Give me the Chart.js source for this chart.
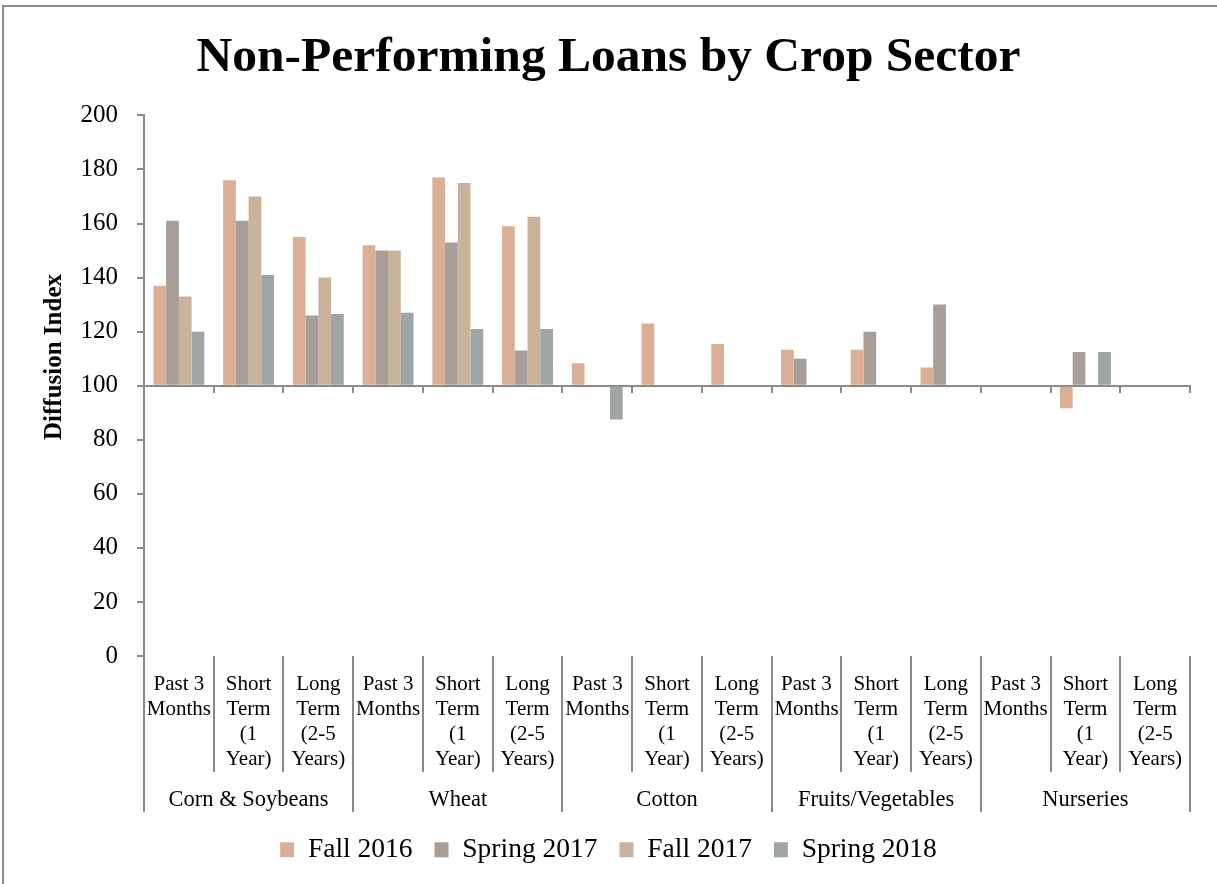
<!DOCTYPE html>
<html>
<head>
<meta charset="utf-8">
<script src="https://cdn.jsdelivr.net/npm/chart.js@4.4.1/dist/chart.umd.min.js"></script>
<style>
  body { margin: 0; background: #fff; overflow: hidden; }
  .frame { position: absolute; left: 2px; top: 5px; width: 1300px; height: 1000px; border: 2px solid #8c8c8c; }
  .wrap { position: absolute; left: 0; top: 0; width: 1217px; height: 884px; }
</style>
</head>
<body>
<div class="frame"></div>
<div class="wrap"><canvas id="myChart"></canvas></div>
<script>
var categories = [
  ["Past 3", "Months"], ["Short", "Term", "(1", "Year)"], ["Long", "Term", "(2-5", "Years)"],
  ["Past 3", "Months"], ["Short", "Term", "(1", "Year)"], ["Long", "Term", "(2-5", "Years)"],
  ["Past 3", "Months"], ["Short", "Term", "(1", "Year)"], ["Long", "Term", "(2-5", "Years)"],
  ["Past 3", "Months"], ["Short", "Term", "(1", "Year)"], ["Long", "Term", "(2-5", "Years)"],
  ["Past 3", "Months"], ["Short", "Term", "(1", "Year)"], ["Long", "Term", "(2-5", "Years)"]
];
var groups = ["Corn & Soybeans", "Wheat", "Cotton", "Fruits/Vegetables", "Nurseries"];

var fall2016   = [137, 176, 155, 152, 177, 159, 108.3, 123, 115.4, 113.3, 113.3, 106.7, null, 91.7, null];
var spring2017 = [161, 161, 126, 150, 153, 113, null, null, null, 110, 120, 130, null, 112.5, null];
var fall2017   = [133, 170, 140, 150, 175, 162.5, null, null, null, null, null, null, null, null, null];
var spring2018 = [120, 141, 126.5, 127, 121, 121, 87.5, null, null, null, null, null, null, 112.5, null];

var yTicks = [0, 20, 40, 60, 80, 100, 120, 140, 160, 180, 200];

const axisGray = '#8a8a8a';
Chart.defaults.font.family = '"Liberation Serif", serif';
Chart.defaults.color = '#000';

// rotated y title, Excel centres it a bit above the plot middle
const yTitle = {
  id: 'yTitle',
  afterDraw(chart) {
    const ctx = chart.ctx;
    ctx.save();
    ctx.translate(55, 357);
    ctx.rotate(-Math.PI / 2);
    ctx.font = 'bold 25px "Liberation Serif"';
    ctx.fillStyle = '#000';
    ctx.textAlign = 'center';
    ctx.textBaseline = 'middle';
    ctx.fillText('Diffusion Index', 0, 0);
    ctx.restore();
  }
};

function bars(label, values, color) {
  return {
    label: label,
    data: values,
    base: 100,
    backgroundColor: color,
    borderWidth: 0,
    categoryPercentage: 0.73,
    barPercentage: 1
  };
}

const ctx = document.getElementById('myChart');
var myChart = new Chart(ctx, {
  type: 'bar',
  data: {
    labels: categories,
    datasets: [
      bars('Fall 2016', fall2016, '#DAAF95'),
      bars('Spring 2017', spring2017, '#A79E98'),
      bars('Fall 2017', fall2017, '#C9B39D'),
      bars('Spring 2018', spring2018, '#9DA5A5')
    ]
  },
  plugins: [yTitle],
  options: {
    responsive: true,
    maintainAspectRatio: false,
    animation: false,
    layout: { padding: { top: 0, left: 0, right: 0, bottom: 10.5 } },
    scales: {
      y: {
        min: 0,
        max: 200,
        afterBuildTicks: (s) => { s.ticks = yTicks.map((v) => ({ value: v })); },
        afterFit: (s) => { s.width = 144; },
        ticks: { font: { size: 25 }, padding: 19 },
        grid: { drawOnChartArea: false, tickLength: 7, color: axisGray, lineWidth: 2 },
        border: { color: axisGray, width: 2 }
      },
      // empty strip on the right so title and legend centre on the page
      yRight: {
        position: 'right',
        min: 0,
        max: 1,
        afterFit: (s) => { s.width = 27; },
        ticks: { display: false },
        grid: { display: false },
        border: { display: false }
      },
      // axis line that crosses at 100
      xMid: {
        type: 'category',
        position: { y: 100 },
        offset: true,
        ticks: { display: false },
        grid: { offset: true, drawOnChartArea: false, tickLength: 6, color: axisGray, lineWidth: 2 },
        border: { color: axisGray, width: 2 }
      },
      x: {
        position: 'bottom',
        offset: true,
        afterFit: (s) => { s.height = 116; },
        ticks: { font: { size: 21, lineHeight: 1.19 }, padding: -100, maxRotation: 0, autoSkip: false },
        grid: { offset: true, drawOnChartArea: false, tickLength: 116, color: axisGray, lineWidth: 2 },
        border: { display: false }
      },
      x2: {
        type: 'category',
        labels: groups,
        position: 'bottom',
        weight: 1,
        offset: true,
        afterFit: (s) => { s.height = 42; },
        ticks: { font: { size: 22.5, lineHeight: 1.19 }, padding: -25, maxRotation: 0, autoSkip: false },
        grid: { offset: true, drawOnChartArea: false, tickLength: 40, color: axisGray, lineWidth: 2 },
        border: { display: false }
      }
    },
    plugins: {
      title: {
        display: true,
        text: 'Non-Performing Loans by Crop Sector',
        font: { size: 49.5, weight: 'bold' },
        color: '#000',
        padding: { top: 29, bottom: 27 }
      },
      legend: {
        position: 'bottom',
        labels: { font: { size: 27.5 }, boxWidth: 14, boxHeight: 15, padding: 22, color: '#000' }
      },
      tooltip: { enabled: false }
    }
  }
});
</script>
</body>
</html>
